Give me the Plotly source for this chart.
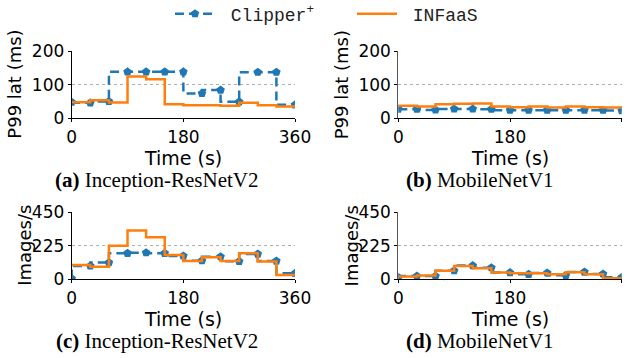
import plotly.graph_objects as go

W, H = 637, 358

times = [0, 30, 60, 90, 120, 150, 180, 210, 240, 270, 300, 330, 360]

a_clipper = [48, 46, 50, 138, 138, 138, 138, 74, 84, 49, 137, 137, 40]
a_infaas = [48, 48, 54, 47, 124, 116, 42, 39, 39, 37, 46, 39, 35]

b_clipper = [27, 27, 25, 28, 28, 27, 24, 24, 24, 24, 24, 24, 23]
b_infaas = [37, 37, 35, 42, 43, 44, 35, 33, 35, 32, 35, 33, 32]

c_clipper = [5, 90, 112, 175, 179, 175, 157, 125, 152, 121, 170, 123, 40]
c_infaas = [96, 96, 85, 226, 327, 282, 163, 123, 148, 123, 175, 119, 29]

d_clipper = [13, 22, 22, 58, 92, 78, 45, 34, 43, 27, 49, 36, 13]
d_infaas = [18, 18, 25, 58, 90, 74, 45, 40, 40, 34, 47, 34, 7]

x_ticks = [0, 180, 360]
lat_ticks = [0, 100, 200]
thr_ticks = [0, 225, 450]

panel_captions = ["(a)", "(b)", "(c)", "(d)"]
model_names = ["Inception-ResNetV2", "MobileNetV1", "Inception-ResNetV2", "MobileNetV1"]
lat_title = "P99 lat (ms)"
thr_title = "Images/s"
x_title = "Time (s)"
series_names = ["\u00a0Clipper<sup>+</sup>", "\u00a0INFaaS"]

BLUE = "#1f77b4"
ORANGE = "#ff7f0e"

fig = go.Figure()

# pixel geometry
xl = [(71.7, 295.0), (398.3, 621.7)]
yt = [(51.0, 118.3), (212.3, 279.3)]


def px(x):
    return x / W


def py(y):
    return 1 - y / H


panels = [
    (a_clipper, a_infaas, 0, 0, lat_ticks),
    (b_clipper, b_infaas, 1, 0, lat_ticks),
    (c_clipper, c_infaas, 0, 1, thr_ticks),
    (d_clipper, d_infaas, 1, 1, thr_ticks),
]

for i, (clip, inf, col, row, yticks) in enumerate(panels):
    n = i + 1
    xa = "x" if n == 1 else f"x{n}"
    ya = "y" if n == 1 else f"y{n}"
    fig.add_trace(go.Scatter(
        x=times, y=clip, xaxis=xa, yaxis=ya, mode="lines+markers",
        line=dict(color=BLUE, width=2.5, dash="9px,5px", shape="vh"),
        marker=dict(symbol="pentagon", size=9, color=BLUE),
        name=series_names[0], showlegend=(i == 0), legendgroup="c",
    ))
    fig.add_trace(go.Scatter(
        x=times, y=inf, xaxis=xa, yaxis=ya, mode="lines",
        line=dict(color=ORANGE, width=2.5, shape="vh"),
        name=series_names[1], showlegend=(i == 0), legendgroup="i",
    ))
    axcolor = "black" if col == 0 else "#555555"
    xkey = "xaxis" if n == 1 else f"xaxis{n}"
    ykey = "yaxis" if n == 1 else f"yaxis{n}"
    fig.layout[xkey] = dict(
        domain=[px(xl[col][0]), px(xl[col][1])], anchor=ya,
        range=[0, 360], tickvals=x_ticks, ticktext=[str(t) for t in x_ticks],
        showgrid=False, zeroline=False, showline=True, linecolor="black", linewidth=1,
        ticks="outside", ticklen=3, tickcolor="black", automargin=False,
        tickfont=dict(family="DejaVu Sans", size=17, color="black"),
    )
    fig.layout[ykey] = dict(
        domain=[py(yt[row][1]), py(yt[row][0])], anchor=xa,
        range=[0, yticks[-1]], tickvals=yticks, ticktext=[str(t) for t in yticks],
        showgrid=True, gridcolor="#b0b0b0", griddash="dot", gridwidth=1,
        zeroline=False, showline=True, linecolor=axcolor, linewidth=1,
        ticks="outside", ticklen=3, tickcolor="black", automargin=False,
        tickfont=dict(family="DejaVu Sans", size=17, color="black"),
    )

annotations = []
ytitle_x = {0: [15.0, 25.0], 1: [341.6, 351.6]}
for i in range(4):
    col, row = i % 2, i // 2
    cx = (xl[col][0] + xl[col][1]) / 2
    cy = (yt[row][0] + yt[row][1]) / 2
    # y title
    annotations.append(dict(
        x=px(ytitle_x[col][row]), y=py(cy), xref="paper", yref="paper",
        text=lat_title if row == 0 else thr_title, textangle=-90, showarrow=False,
        xanchor="center", yanchor="middle",
        font=dict(family="DejaVu Sans", size=18, color="black"),
    ))
    # x title
    annotations.append(dict(
        x=px(cx), y=py([158, 319][row]), xref="paper", yref="paper",
        text=x_title, showarrow=False, xanchor="center", yanchor="middle",
        font=dict(family="DejaVu Sans", size=19, color="black"),
    ))
    # caption
    annotations.append(dict(
        x=px([157, 480][col]), y=py([180, 341][row]), xref="paper", yref="paper",
        text=f"<b>{panel_captions[i]}</b> {model_names[i]}", showarrow=False,
        xanchor="center", yanchor="middle",
        font=dict(family="Liberation Serif", size=21, color="black"),
    ))

fig.update_layout(
    width=W, height=H, margin=dict(l=0, r=0, t=0, b=0, autoexpand=False),
    paper_bgcolor="white", plot_bgcolor="white",
    annotations=annotations,
    showlegend=True,
    legend=dict(
        orientation="h", x=px(352), xanchor="center", y=py(14), yanchor="middle",
        font=dict(family="Liberation Mono", size=18, color="#222222"),
        bgcolor="rgba(0,0,0,0)", itemwidth=40, entrywidth=127,
    ),
)

fig.write_html(
    "out.html",
    config={"displayModeBar": False},
    post_script="document.body.style.margin='0';document.body.style.overflow='hidden';",
)
